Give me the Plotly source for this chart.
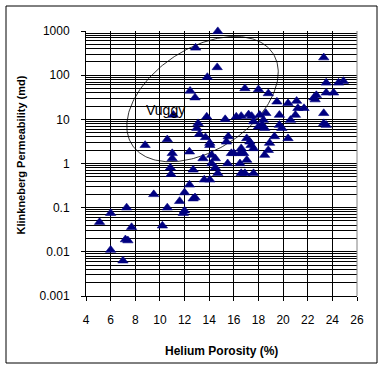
import numpy as np
import plotly.graph_objects as go

# ---- data ----
porosity = [5.1, 6.0, 6.0, 7.0, 7.2, 7.4, 7.3, 7.7, 8.8, 9.5, 10.2, 10.6, 10.6, 10.85, 10.9,
            11.0, 11.0, 11.1, 11.6, 11.9, 12.0, 12.0, 12.4, 12.7, 12.85, 12.7, 12.4, 12.45, 12.85,
            12.9, 13.0, 13.1, 13.2, 13.5, 13.6, 13.7, 13.8, 13.85, 14.05, 14.05, 14.05, 14.2, 14.2,
            14.5, 14.5, 14.65, 14.7, 14.7, 15.3, 15.4, 15.5, 15.55, 15.8, 16.0, 16.2, 16.5, 16.5,
            16.6, 16.6, 16.6, 16.8, 16.9, 16.9, 17.05, 17.05, 17.2, 17.3, 17.4, 17.45, 17.6, 17.6,
            17.6, 18.0, 18.0, 18.1, 18.3, 18.4, 18.5, 18.5, 18.6, 18.8, 18.8, 18.9, 19.3, 19.5,
            19.7, 19.7, 19.9, 20.4, 20.4, 20.6, 21.0, 21.1, 21.2, 21.7, 22.5, 22.7, 22.6, 23.3,
            23.3, 23.3, 23.5, 23.5, 23.5, 24.1, 24.5, 24.9]
permeability = [0.047, 0.075, 0.011, 0.0063, 0.019, 0.018, 0.10, 0.036, 2.6, 0.20, 0.039, 0.10, 3.5,
                0.8, 0.57, 1.7, 1.3, 12.5, 0.14, 0.075, 0.085, 0.22, 0.33, 0.16, 0.17, 0.72, 1.85,
                44, 31, 415, 6.3, 8.1, 4.6, 1.3, 0.43, 3.9, 11.4, 90, 2.9, 2.6, 0.43, 1.55, 1.0,
                1.3, 0.8, 150, 980, 0.6, 10, 3.1, 1.0, 4.1, 1.7, 1.7, 11.4, 1.0, 1.7,
                0.6, 2.2, 11.8, 1.7, 0.6, 50, 1.2, 3.7, 12.8, 3.1, 2.6, 11.8, 0.6, 2.2,
                8.9, 6.8, 47.6, 12.5, 7.4, 9.6, 6.3, 1.55, 13.7, 2.0, 38.6, 2.9, 4.1, 25,
                7.4, 12.5, 6.3, 3.7, 23, 9.6, 12.5, 26, 17.8, 17.8, 31, 35, 28, 250,
                13.7, 8.1, 7.4, 40, 67, 40, 67, 73]

x_ticks = [4, 6, 8, 10, 12, 14, 16, 18, 20, 22, 24, 26]
y_ticks = [0.001, 0.01, 0.1, 1, 10, 100, 1000]
y_tick_text = ["0.001", "0.01", "0.1", "1", "10", "100", "1000"]

# "Vuggy" outline: centre (porosity, permeability), semi-axes in pixels, tilt (deg)
vug_center = (13.46, 28.7)
vug_axes_px = (84, 51)
vug_tilt = 33

# ---- layout geometry ----
W, H = 384, 368
L, R, T, B = 86, 27, 31, 72
pw, ph = W - L - R, H - T - B
px_per_x = pw / (26 - 4)
px_per_dec = ph / 6.0

t = np.linspace(0, 2 * np.pi, 241)
th = np.radians(vug_tilt)
a, b = vug_axes_px
dx = a * np.cos(t) * np.cos(th) - b * np.sin(t) * np.sin(th)
dy = a * np.cos(t) * np.sin(th) + b * np.sin(t) * np.cos(th)
ex = vug_center[0] + dx / px_per_x
ey = 10 ** (np.log10(vug_center[1]) + dy / px_per_dec)

font = "Arial, Liberation Sans, sans-serif"

fig = go.Figure()
fig.add_trace(go.Scatter(x=ex, y=ey, mode="lines", line=dict(color="black", width=0.8),
                         hoverinfo="skip", showlegend=False))
fig.add_trace(go.Scatter(x=porosity, y=permeability, mode="markers", cliponaxis=False,
                         marker=dict(symbol="triangle-up", size=9, color="#000080",
                                     line=dict(width=0.6, color="#000080")),
                         showlegend=False))

minor_vals = [m * 10.0 ** e for e in range(-3, 3) for m in range(2, 10)]

fig.update_layout(
    width=W, height=H, autosize=False,
    margin=dict(l=L, r=R, t=T, b=B, pad=0),
    paper_bgcolor="white", plot_bgcolor="white",
    font=dict(family=font, size=12, color="black"),
    xaxis=dict(range=[4, 26], tickvals=x_ticks, ticktext=[str(v) for v in x_ticks],
               showgrid=True, gridcolor="black", gridwidth=1, zeroline=False,
               showline=True, linecolor="black", linewidth=1,
               ticks="outside", ticklen=4, tickcolor="black",
               ticklabelstandoff=9, tickfont=dict(size=12)),
    yaxis=dict(type="log", range=[-3, 3], tickvals=y_ticks, ticktext=y_tick_text,
               showgrid=True, gridcolor="black", gridwidth=1, zeroline=False,
               showline=True, linecolor="black", linewidth=1,
               ticks="outside", ticklen=4, tickcolor="black",
               ticklabelstandoff=9, tickfont=dict(size=12),
               minor=dict(tickvals=minor_vals, showgrid=True, gridcolor="black",
                          gridwidth=1, ticks="")),
    shapes=[
        dict(type="line", xref="paper", yref="paper", x0=1, x1=1, y0=0, y1=1,
             line=dict(color="#808080", width=1)),
        dict(type="rect", xref="paper", yref="paper",
             x0=(6 - L) / pw, x1=(377 - L) / pw,
             y0=(H - B - 363) / ph, y1=(H - B - 6) / ph,
             line=dict(color="black", width=1), fillcolor="rgba(0,0,0,0)"),
    ],
    annotations=[
        dict(text="Vuggy", x=10.45, y=np.log10(16.2), xref="x", yref="y",
             showarrow=False, font=dict(size=14, family=font, color="black")),
        dict(text="<b>Helium Porosity (%)</b>", xref="paper", yref="paper",
             x=0.5, y=(H - B - 351) / ph, showarrow=False, yanchor="middle",
             font=dict(size=12, family=font)),
        dict(text="<b>Klinkneberg Permeability (md)</b>", xref="paper", yref="paper",
             x=(20.5 - L) / pw, y=(H - B - 155) / ph, showarrow=False, textangle=-90,
             xanchor="center", yanchor="middle", font=dict(size=11, family=font)),
    ],
)

fig.write_html("out.html", config={"displayModeBar": False})

# remove the browser's default page margin so the chart sits at (0, 0)
with open("out.html", encoding="utf-8") as f:
    html = f.read()
html = html.replace("<body>", '<body style="margin:0;padding:0;overflow:hidden">', 1)
with open("out.html", "w", encoding="utf-8") as f:
    f.write(html)
